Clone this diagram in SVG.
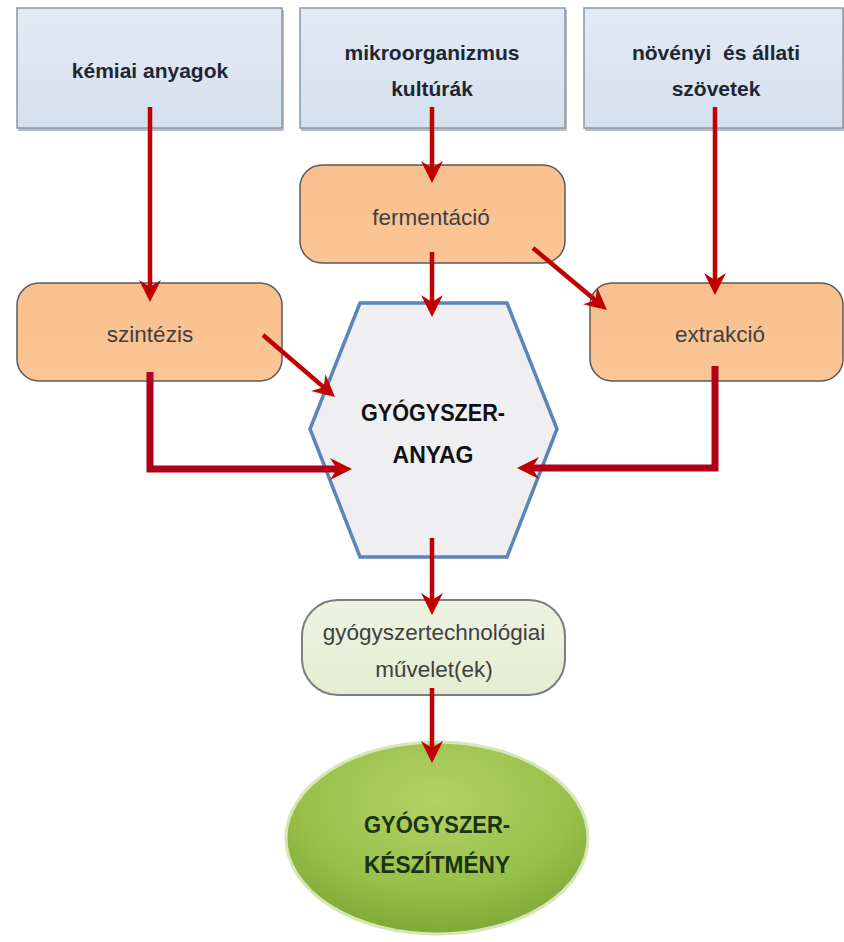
<svg xmlns="http://www.w3.org/2000/svg" width="844" height="942" viewBox="0 0 844 942">
<defs>
<linearGradient id="gBlue" x1="0" y1="0" x2="0" y2="1">
<stop offset="0" stop-color="#e3eaf4"/>
<stop offset="1" stop-color="#d5e0ee"/>
</linearGradient>
<linearGradient id="gOrange" x1="0" y1="0" x2="0" y2="1">
<stop offset="0" stop-color="#f9c08e"/>
<stop offset="1" stop-color="#fbc596"/>
</linearGradient>
<linearGradient id="gLight" x1="0" y1="0" x2="0" y2="1">
<stop offset="0" stop-color="#eef3e2"/>
<stop offset="1" stop-color="#e4edd2"/>
</linearGradient>
<radialGradient id="gGreen" cx="0.5" cy="0.3" r="0.75">
<stop offset="0" stop-color="#b4d266"/>
<stop offset="0.6" stop-color="#98c04a"/>
<stop offset="1" stop-color="#7aa531"/>
</radialGradient>
<marker id="ah" markerUnits="userSpaceOnUse" markerWidth="24" markerHeight="24" viewBox="0 0 24 24" refX="10" refY="12" orient="auto">
<path d="M0,1 L22,12 L0,23 L7,12 Z" fill="#c00000"/>
</marker>
<style>
.top{fill:url(#gBlue);stroke:#8d97a4;stroke-width:1.5}
.shadow{fill:#b8bcc4}
.org{fill:url(#gOrange);stroke:#5a5a5a;stroke-width:1.5}
.t1{font-family:"Liberation Sans",Arial,sans-serif;font-size:21px;font-weight:bold;fill:#1f2633;text-anchor:middle}
.t2{font-family:"Liberation Sans",Arial,sans-serif;font-size:22.5px;fill:#3f3f3f;text-anchor:middle}
.t3{font-family:"Liberation Sans",Arial,sans-serif;font-size:23px;font-weight:bold;fill:#111;text-anchor:middle}
.t4{font-family:"Liberation Sans",Arial,sans-serif;font-size:23px;font-weight:bold;fill:#1b3310;text-anchor:middle}
.c{fill:none;stroke:#c00000;stroke-width:4.5;marker-end:url(#ah)}
.cb{fill:none;stroke:#b0001c;stroke-width:7;marker-end:url(#ah)}
</style>
</defs>
<rect width="844" height="942" fill="#ffffff"/>

<g id="kemiai">
<rect class="shadow" x="18" y="10" width="266" height="121"/>
<rect class="top" x="17" y="8" width="265" height="120"/>
<text class="t1" x="150" y="78">kémiai anyagok</text>
</g>
<g id="mikro">
<rect class="shadow" x="301" y="10" width="266" height="121"/>
<rect class="top" x="300" y="8" width="265" height="120"/>
<text class="t1" x="432" y="60">mikroorganizmus</text>
<text class="t1" x="432" y="96">kultúrák</text>
</g>
<g id="noveny">
<rect class="shadow" x="585" y="10" width="260" height="121"/>
<rect class="top" x="584" y="8" width="259" height="120"/>
<text class="t1" x="716" y="60" xml:space="preserve">növényi  és állati</text>
<text class="t1" x="716" y="96">szövetek</text>
</g>

<g id="fermentacio">
<rect class="org" x="300" y="165" width="265" height="98" rx="22"/>
<text class="t2" x="431" y="225">fermentáció</text>
</g>
<g id="szintezis">
<rect class="org" x="17" y="283" width="265" height="98" rx="22"/>
<text class="t2" x="150" y="342">szintézis</text>
</g>
<g id="extrakcio">
<rect class="org" x="590" y="283" width="253" height="98" rx="22"/>
<text class="t2" x="720" y="342">extrakció</text>
</g>

<g id="gyogyszeranyag">
<polygon points="360,303 507,303 557,429 507,557 360,557 310,429" fill="#efeff2" stroke="#5b84b8" stroke-width="3.5" stroke-linejoin="miter"/>
<text class="t3" x="433" y="421" textLength="144" lengthAdjust="spacingAndGlyphs">GYÓGYSZER-</text>
<text class="t3" x="433" y="463">ANYAG</text>
</g>

<g id="technologia">
<rect x="302" y="600" width="263" height="95" rx="36" fill="url(#gLight)" stroke="#7a7f7a" stroke-width="2"/>
<text class="t2" x="434" y="640">gyógyszertechnológiai</text>
<text class="t2" x="434" y="677">művelet(ek)</text>
</g>

<g id="keszitmeny">
<ellipse cx="437" cy="838" rx="151" ry="96" fill="url(#gGreen)" stroke="#d6e6b4" stroke-width="3"/>
<text class="t4" x="437" y="833" textLength="146" lengthAdjust="spacingAndGlyphs">GYÓGYSZER-</text>
<text class="t4" x="437" y="873" textLength="146" lengthAdjust="spacingAndGlyphs">KÉSZÍTMÉNY</text>
</g>

<g id="connectors">
<path class="c" d="M150,107 V290"/>
<path class="c" d="M432,107 V171"/>
<path class="c" d="M715,107 V283"/>
<path class="c" d="M432,252 V305"/>
<path class="c" d="M263,335 L325.9,389.1"/>
<path class="c" d="M533,248 L597.8,302.3"/>
<path class="cb" d="M150,372 V469 H340"/>
<path class="cb" d="M715,366 V468 H529"/>
<path class="c" d="M432,538 V603"/>
<path class="c" d="M432,688 V751"/>
</g>
</svg>
